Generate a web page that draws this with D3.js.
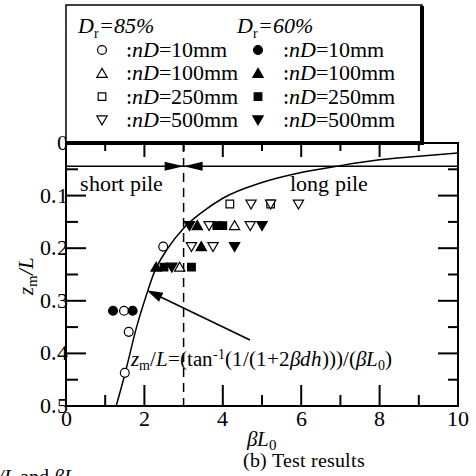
<!DOCTYPE html>
<html>
<head>
<meta charset="utf-8">
<script src="https://cdn.jsdelivr.net/npm/d3@7"></script>
<style>
  @font-face { font-family: "ChartSerif"; src: local("Liberation Serif"), local("LiberationSerif"), local("Times New Roman"); font-style: normal; }
  @font-face { font-family: "ChartSerif"; src: local("Liberation Serif Italic"), local("LiberationSerif-Italic"), local("Times New Roman Italic"); font-style: italic; }
  body { margin: 0; }
</style>
</head>
<body>
<svg id="fig" width="476" height="476"></svg>
<script>
// ---- data (βL0, zm/L) ----
const xTicks = [0, 2, 4, 6, 8, 10];
const yTicks = [0, 0.1, 0.2, 0.3, 0.4, 0.5];
const yTickLabels = ["0", "0.1", "0.2", "0.3", "0.4", "0.5"];

// theoretical curve zm/L = tan^-1(1/(1+2βdh))/(βL0), sampled
const curveX = [1.28, 1.5, 1.8, 2.06, 2.25, 2.6, 3.0, 3.5, 4.0, 5.0, 6.0, 7.0, 8.0, 9.0, 10.0];
const curveZ = [0.5, 0.44, 0.35, 0.287, 0.246, 0.2, 0.162, 0.13, 0.105, 0.075, 0.056, 0.043, 0.032, 0.025, 0.019];

// Dr = 85 % (open symbols)
const dr85_10  = [[1.5, 0.437], [1.6, 0.359], [1.48, 0.319], [2.48, 0.197]];
const dr85_100 = [[2.9, 0.236], [4.3, 0.157]];
const dr85_250 = [[4.18, 0.116], [5.22, 0.116]];
const dr85_500 = [[3.65, 0.157], [4.7, 0.157], [4.72, 0.116], [5.22, 0.116], [5.93, 0.116], [3.2, 0.197], [3.75, 0.197]];
// Dr = 60 % (filled symbols)
const dr60_10  = [[1.2, 0.319], [1.7, 0.319]];
const dr60_100 = [[2.3, 0.236], [3.35, 0.157], [3.45, 0.197]];
const dr60_250 = [[2.5, 0.236], [3.2, 0.236], [3.85, 0.157], [4.0, 0.157]];
const dr60_500 = [[2.7, 0.236], [3.15, 0.157], [5.0, 0.157], [4.3, 0.197]];

const legendRows = ["10", "100", "250", "500"];
const boundaryX = 3;      // short / long pile boundary
const boundaryZ = 0.044;  // level of the boundary arrows

const FONT = "ChartSerif, 'Liberation Serif', 'Times New Roman', serif";

// ---- layout ----
const svg = d3.select("#fig");
const x = d3.scaleLinear().domain([0, 10]).range([66, 458]);
const y = d3.scaleLinear().domain([0, 0.5]).range([143, 406]);

// every label is a serif text element
function label(parent, px, py, size) {
  return parent.append("text")
    .style("font-family", FONT)
    .attr("x", px).attr("y", py).attr("font-size", size);
}

// symbol generators
const sym = {
  circle:   d3.symbol().type(d3.symbolCircle).size(62),
  triUp:    d3.symbol().type(d3.symbolTriangle).size(46),
  square:   d3.symbol().type(d3.symbolSquare).size(58),
  triDown:  d3.symbol().type(d3.symbolTriangle).size(46)
};
function drawSymbol(g, kind, filled, cx, cy) {
  const rot = kind === "triDown" ? " rotate(180)" : "";
  const dy = kind === "triUp" ? 1 : (kind === "triDown" ? -1 : 0);
  g.append("path")
    .attr("d", sym[kind]())
    .attr("transform", `translate(${cx},${cy + dy})${rot}`)
    .attr("fill", filled ? "#000" : "#fff")
    .attr("stroke", "#000")
    .attr("stroke-width", 1.2);
}

// ---- frame ticks ----
const minorX = d3.range(1, 10, 2);
const majorX = d3.range(2, 10, 2);
const ticks = svg.append("g").attr("stroke", "#000").attr("stroke-width", 2);
majorX.forEach(v => ticks.append("line").attr("x1", x(v)).attr("x2", x(v)).attr("y1", y(0.5)).attr("y2", y(0.5) - 21));
minorX.forEach(v => { if (v !== boundaryX) ticks.append("line").attr("x1", x(v)).attr("x2", x(v)).attr("y1", y(0.5)).attr("y2", y(0.5) - 11); });
majorX.forEach(v => ticks.append("line").attr("x1", x(v)).attr("x2", x(v)).attr("y1", y(0)).attr("y2", y(0) + 14));
minorX.forEach(v => ticks.append("line").attr("x1", x(v)).attr("x2", x(v)).attr("y1", y(0)).attr("y2", y(0) + 8));
const yMinor = [0.05, 0.15, 0.25, 0.35, 0.45];
const yMajor = [0.1, 0.2, 0.3, 0.4];
yMajor.forEach(v => {
  ticks.append("line").attr("x1", x(0)).attr("x2", x(0) + 20).attr("y1", y(v)).attr("y2", y(v));
  ticks.append("line").attr("x1", x(10)).attr("x2", x(10) - 20).attr("y1", y(v)).attr("y2", y(v));
});
yMinor.forEach(v => {
  ticks.append("line").attr("x1", x(0)).attr("x2", x(0) + 12).attr("y1", y(v)).attr("y2", y(v));
  ticks.append("line").attr("x1", x(10)).attr("x2", x(10) - 10).attr("y1", y(v)).attr("y2", y(v));
});

// plot frame
svg.append("rect")
  .attr("x", x(0)).attr("y", y(0))
  .attr("width", x(10) - x(0)).attr("height", y(0.5) - y(0))
  .attr("fill", "none").attr("stroke", "#000").attr("stroke-width", 2);

// boundary: dashed vertical line
svg.append("line")
  .attr("x1", x(boundaryX)).attr("x2", x(boundaryX))
  .attr("y1", y(0)).attr("y2", y(0.5))
  .attr("stroke", "#000").attr("stroke-width", 1.5)
  .attr("stroke-dasharray", "9,6");

// boundary: horizontal line with converging arrowheads
svg.append("line")
  .attr("x1", x(0)).attr("x2", x(10))
  .attr("y1", y(boundaryZ)).attr("y2", y(boundaryZ))
  .attr("stroke", "#000").attr("stroke-width", 1.5);
const by = y(boundaryZ), bx = x(boundaryX);
svg.append("path").attr("d", `M${bx},${by} L${bx - 19},${by - 4.5} L${bx - 19},${by + 4.5} Z`).attr("fill", "#000");
svg.append("path").attr("d", `M${bx},${by} L${bx + 19},${by - 4.5} L${bx + 19},${by + 4.5} Z`).attr("fill", "#000");

// theoretical curve
const curveData = curveX.map((v, i) => [v, curveZ[i]]);
svg.append("path")
  .datum(curveData)
  .attr("d", d3.line().x(d => x(d[0])).y(d => y(d[1])).curve(d3.curveMonotoneX))
  .attr("fill", "none").attr("stroke", "#000").attr("stroke-width", 1.5);

// data points
const pts = svg.append("g");
[[dr85_10, "circle", false], [dr85_100, "triUp", false], [dr85_250, "square", false], [dr85_500, "triDown", false],
 [dr60_10, "circle", true], [dr60_100, "triUp", true], [dr60_250, "square", true], [dr60_500, "triDown", true]]
  .forEach(([arr, kind, filled]) => arr.forEach(d => drawSymbol(pts, kind, filled, x(d[0]), y(d[1]))));

// labels in the plot
label(svg, 80, 191, 22).text("short pile");
label(svg, 290, 191, 22).text("long pile");

// formula and pointer arrow
const ax1 = 250, ay1 = 340, ax2 = x(2.06), ay2 = y(0.28);
const ang = Math.atan2(ay2 - ay1, ax2 - ax1);
svg.append("line").attr("x1", ax1).attr("y1", ay1)
  .attr("x2", ax2 - 12 * Math.cos(ang)).attr("y2", ay2 - 12 * Math.sin(ang))
  .attr("stroke", "#000").attr("stroke-width", 1.5);
const hl = 16, hw = 5;
svg.append("path")
  .attr("d", `M${ax2},${ay2} L${ax2 - hl * Math.cos(ang) + hw * Math.sin(ang)},${ay2 - hl * Math.sin(ang) - hw * Math.cos(ang)} L${ax2 - hl * Math.cos(ang) - hw * Math.sin(ang)},${ay2 - hl * Math.sin(ang) + hw * Math.cos(ang)} Z`)
  .attr("fill", "#000");

const f = label(svg, 131, 366, 21);
f.append("tspan").attr("font-style", "italic").text("z");
f.append("tspan").attr("font-size", 14).attr("dy", 4).text("m");
f.append("tspan").attr("dy", -4).text("/");
f.append("tspan").attr("font-style", "italic").text("L");
f.append("tspan").text("=(tan");
f.append("tspan").attr("font-size", 14).attr("dy", -7).text("-1");
f.append("tspan").attr("dy", 7).text("(1/(1+2");
f.append("tspan").attr("font-style", "italic").text("βdh");
f.append("tspan").text(")))/(");
f.append("tspan").attr("font-style", "italic").text("βL");
f.append("tspan").attr("font-size", 14).attr("dy", 4).text("0");
f.append("tspan").attr("dy", -4).text(")");

// tick labels
xTicks.forEach(d => label(svg, x(d), 426, 22).attr("text-anchor", "middle").text(d));
yTicks.forEach((d, i) => label(svg, 68, y(d) + 7, 22).attr("text-anchor", "end").text(yTickLabels[i]));

// axis titles
const xt = label(svg, 262, 446, 21).attr("text-anchor", "middle");
xt.append("tspan").attr("font-style", "italic").text("βL");
xt.append("tspan").attr("font-size", 15).attr("dy", 4).text("0");
label(svg, 243, 467, 20).text("(b) Test results");
const yt = label(svg, 0, 0, 21).attr("transform", "translate(33,276) rotate(-90)").attr("text-anchor", "middle");
yt.append("tspan").attr("font-style", "italic").text("z");
yt.append("tspan").attr("font-size", 15).attr("dy", 4).text("m");
yt.append("tspan").attr("dy", -4).attr("font-style", "italic").text("/L");

// caption fragment at the bottom edge
const cap = label(svg, -10, 483, 20);
cap.append("tspan").attr("font-style", "italic").text("z");
cap.append("tspan").attr("font-style", "italic").text("/L");
cap.append("tspan").text(" and ");
cap.append("tspan").attr("font-style", "italic").text("βL");

// ---- legend box ----
const lg = svg.append("g");
lg.append("rect").attr("x", 66).attr("y", 5).attr("width", 356).attr("height", 138)
  .attr("fill", "#fff").attr("stroke", "#000").attr("stroke-width", 1.5);
lg.append("line").attr("x1", 422).attr("x2", 422).attr("y1", 6).attr("y2", 144)
  .attr("stroke", "#000").attr("stroke-width", 4);
lg.append("line").attr("x1", 66).attr("x2", 424).attr("y1", 143).attr("y2", 143)
  .attr("stroke", "#000").attr("stroke-width", 4);

const cols = [
  { sx: 102, tx: 126, hx: 78, head: "85%", filled: false },
  { sx: 258, tx: 283, hx: 237, head: "60%", filled: true }
];
const kinds = ["circle", "triUp", "square", "triDown"];
cols.forEach(c => {
  const h = label(lg, c.hx, 33, 22);
  h.append("tspan").attr("font-style", "italic").text("D");
  h.append("tspan").attr("font-size", 14).attr("dy", 5).text("r");
  h.append("tspan").attr("dy", -5).attr("font-style", "italic").text("=" + c.head);
  legendRows.forEach((r, i) => {
    const ry = 50 + i * 23.3;
    drawSymbol(lg, kinds[i], c.filled, c.sx, ry);
    const t = label(lg, c.tx, ry + 7, 22);
    t.append("tspan").text(":");
    t.append("tspan").attr("font-style", "italic").text("nD");
    t.append("tspan").text("=" + r + "mm");
  });
});
</script>
</body>
</html>
